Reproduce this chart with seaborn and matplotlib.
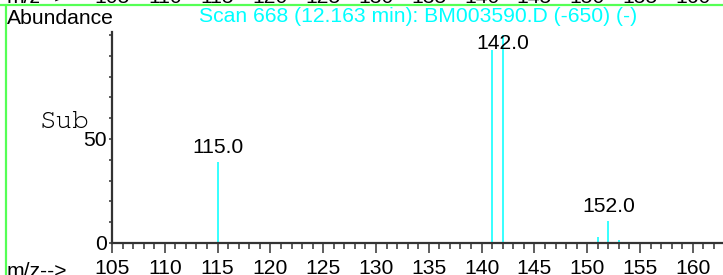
import numpy as np
import matplotlib
matplotlib.use('Agg')
import matplotlib.pyplot as plt
import matplotlib.transforms as mtransforms
from matplotlib.lines import Line2D
from matplotlib.ticker import MultipleLocator, FixedLocator
import seaborn as sns

# ------------------------------------------------------------
# Data
# ------------------------------------------------------------
mz = [115, 141, 142, 151, 152, 153]
abundance = [38.9, 92.8, 100.0, 2.7, 10.7, 1.5]
labelled_mz = [115, 142, 152]
x_ticks = [105, 110, 115, 120, 125, 130, 135, 140, 145, 150, 155, 160]
title = 'Scan 668 (12.163 min): BM003590.D (-650) (-)'

CYAN = '#00FFFF'
GREEN = '#55FF55'
AXIS = '#333333'
FS = 15.2

sns.set_theme(style='ticks')
plt.rcParams['font.family'] = ['Liberation Sans', 'DejaVu Sans']

W, H = 723, 275
fig = plt.figure(figsize=(W / 100, H / 100), dpi=100)
ax = fig.add_axes([112 / W, 32 / H, 1 - 112 / W, 211 / H])

# stick spectrum
ax.vlines(mz, 0, abundance, color=CYAN, linewidth=1.1)

# peak labels, kept below the top of the plot
for m in labelled_mz:
    h = abundance[mz.index(m)]
    ax.annotate(f'{m:.1f}', xy=(m, min(h, 89)), xytext=(0, 3.5),
                textcoords='offset points', ha='center', va='bottom',
                fontsize=FS, color='black')

ax.set_xlim(105, 105 + 611 / 10.56)
ax.set_ylim(0, 211 / 2.08)

ax.xaxis.set_major_locator(FixedLocator(x_ticks))
ax.xaxis.set_minor_locator(MultipleLocator(1))
ax.yaxis.set_major_locator(FixedLocator([0, 50]))
ax.yaxis.set_minor_locator(MultipleLocator(10))

ax.tick_params(axis='x', which='major', length=7.5, width=1.1, color=AXIS,
               pad=4, labelsize=FS, labelcolor='black')
ax.tick_params(axis='x', which='minor', length=4.5, width=1.1, color=AXIS)
ax.tick_params(axis='y', which='both', length=2.5, width=1.1, color=AXIS,
               pad=1, labelsize=FS, labelcolor='black')

sns.despine(ax=ax, top=True, right=True)
for side in ['left', 'bottom']:
    ax.spines[side].set_color(AXIS)
    ax.spines[side].set_linewidth(1.6)
ax.set_facecolor('white')
ax.grid(False)

# header / axis captions
fig.text(7 / W, 1 - 9 / H, 'Abundance', fontsize=FS, ha='left', va='top', color='black')
fig.text(418 / W, 1 - 17 / H, title, fontsize=FS, ha='center', va='center', color=CYAN)
fig.text(40 / W, 1 - 128 / H, 'Sub', fontsize=20, ha='left', va='baseline',
         family=['Courier New', 'Courier', 'Nimbus Mono PS', 'FreeMono',
                 'Liberation Mono', 'DejaVu Sans Mono'], color='black')
fig.text(7 / W, 1 - 262 / H, 'm/z-->', fontsize=FS, ha='left', va='top', color='black')

# clipped axis labels of the panel above
trans = mtransforms.blended_transform_factory(ax.transData, fig.transFigure)
fig.text(7 / W, 1 - 3 / H, 'm/z-->', fontsize=FS, ha='left', va='baseline', color='black')
for t in x_ticks:
    fig.text(t, 1 - 3 / H, str(t), transform=trans, fontsize=FS, ha='center',
             va='baseline', color='black')

# green frame of the screenshot
fig.add_artist(Line2D([0, 1], [1 - 5 / H, 1 - 5 / H], transform=fig.transFigure,
                      color=GREEN, linewidth=1.6))
fig.add_artist(Line2D([6 / W, 6 / W], [0, 1 - 5 / H], transform=fig.transFigure,
                      color=GREEN, linewidth=1.6))

fig.savefig('out.png', dpi=100, facecolor='white')
